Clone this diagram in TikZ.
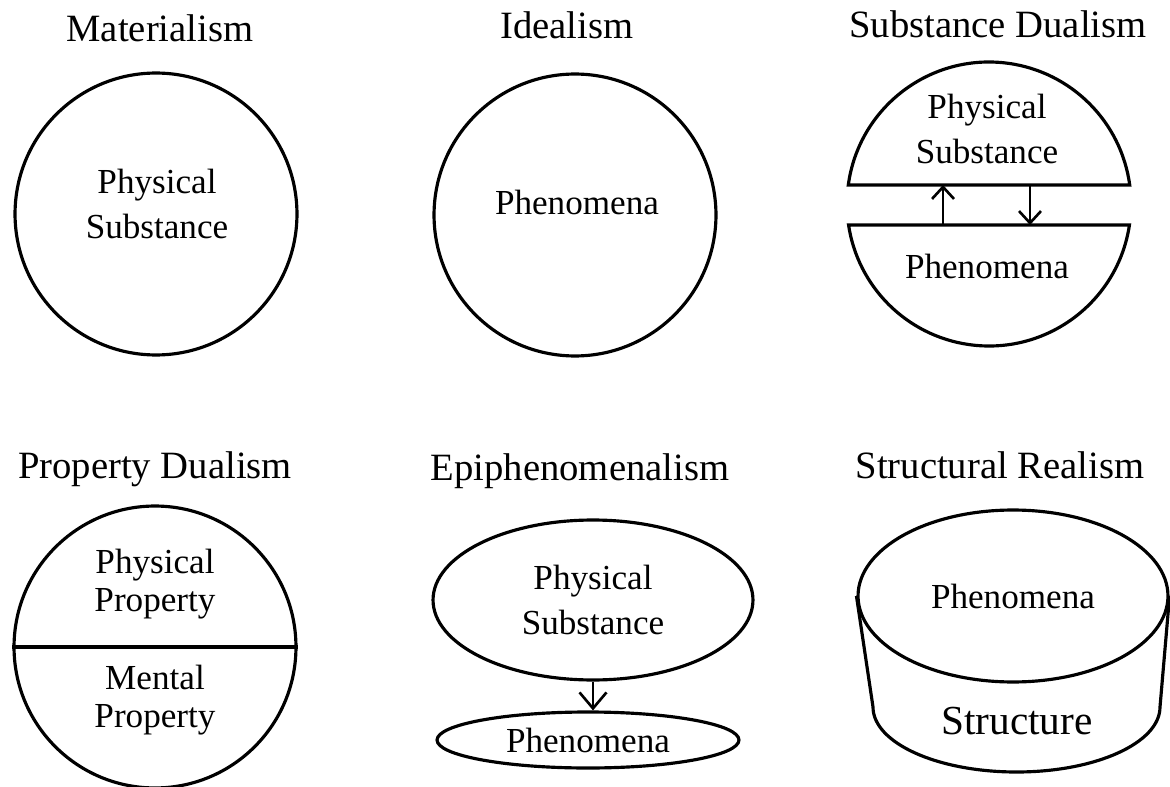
\documentclass[tikz,border=0pt]{standalone}
\usepackage{fontspec}
\setmainfont{Liberation Serif}
\usetikzlibrary{arrows.meta,shapes.geometric}

\begin{document}
\begin{tikzpicture}[
        x=0.02cm, y=-0.02cm,
        line width=1.8pt,
        heading/.style={
            anchor=base,
            inner sep=0pt,
            font=\fontsize{22}{26}\selectfont
        },
        nodetext/.style={
            align=center,
            inner sep=0pt,
            font=\fontsize{20}{25.6}\selectfont
        },
        disc/.style={
            draw,
            circle,
            minimum size=5.64cm,
            inner sep=0pt
        },
        oval/.style={
            draw,
            ellipse,
            inner sep=0pt,
            align=center,
            font=\fontsize{20}{25.6}\selectfont
        },
        arrow/.style={
            -{Straight Barb[length=2.4mm,width=4.4mm,line width=1.5pt]},
            line width=1.5pt
        }
    ]

        \useasboundingbox (0,0) rectangle (1170,787);

        % Materialism
        \node[heading] (mat-title) at (160,42) {Materialism};
        \node[disc] (mat) at (156,214) {};
        \node[nodetext] (mat-text) at (157,204) {Physical\\Substance};

        % Idealism
        \node[heading] (ide-title) at (567,39) {Idealism};
        \node[disc] (ide) at (575,215) {};
        \node[nodetext] (ide-text) at (577,202) {Phenomena};

        % Substance dualism: two segments of one circle
        \node[heading] (sub-title) at (998,38) {Substance Dualism};
        \coordinate (sub-c) at (989,204);

        \draw (sub-c) ++(187.69:142)
            arc[start angle=187.69, end angle=352.31, radius=142]
            -- cycle;

        \draw (sub-c) ++(8.5:142)
            arc[start angle=8.5, end angle=171.5, radius=142]
            -- cycle;

        \node[nodetext] (sub-phys) at (987,129) {Physical\\Substance};
        \node[nodetext] (sub-phen) at (987,266) {Phenomena};

        % points on the two chords
        \coordinate (phys-floor) at (989,185);
        \coordinate (phen-roof)  at (989,225);

        \draw[arrow]
            ([xshift=-0.92cm]phen-roof) -- ([xshift=-0.92cm]phys-floor);
        \draw[arrow]
            ([xshift=0.82cm]phys-floor) -- ([xshift=0.82cm]phen-roof);

        % Property dualism
        \node[heading] (prop-title) at (155,478) {Property Dualism};
        \node[disc] (prop) at (155,647) {};
        \draw[line width=2.3pt] (prop.west) -- (prop.east);
        \node[nodetext, font=\fontsize{20}{21.5}\selectfont]
            (prop-phys) at (155,584) {Physical\\Property};
        \node[nodetext, font=\fontsize{20}{21.5}\selectfont]
            (prop-ment) at (155,700) {Mental\\Property};

        % Epiphenomenalism
        \node[heading] (epi-title) at (580,480) {Epiphenomenalism};
        \node[oval, minimum width=6.4cm, minimum height=3.2cm]
            (epi-phys) at (593,600) {Physical\\Substance};
        \node[oval, minimum width=6.04cm, minimum height=1.12cm]
            (epi-phen) at (588,740) {Phenomena};

        \draw[arrow, -{Straight Barb[length=3.2mm,width=5.4mm,line width=1.5pt]}]
            (epi-phys.south) -- (epi-phys.south |- epi-phen.north);

        % Structural realism: a drum
        \node[heading] (str-title) at (1000,478) {Structural Realism};
        \node[oval, minimum width=6.2cm, minimum height=3.44cm]
            (str-top) at (1013,596) {Phenomena};

        \coordinate (str-base-l) at (873,707);

        \draw (str-top.west) -- (str-base-l)
            arc[start angle=180, end angle=0, x radius=143.5, y radius=65]
            -- (str-top.east);

        \node[nodetext, font=\fontsize{23.5}{28}\selectfont]
            (str-base) at (1017,721) {Structure};

    \end{tikzpicture}
\end{document}
